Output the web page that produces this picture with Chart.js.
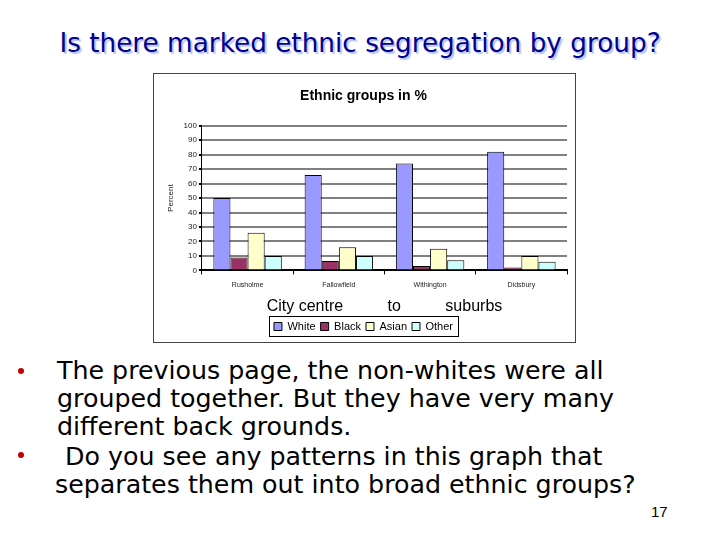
<!DOCTYPE html>
<html>
<head>
<meta charset="utf-8">
<script src="https://cdn.jsdelivr.net/npm/chart.js@4"></script>
<style>
  body { margin: 0; width: 720px; height: 540px; background: #fff; position: relative; overflow: hidden; }
  #title { position: absolute; left: 0; top: 28px; width: 720px; text-align: center;
    font-family: "DejaVu Sans", sans-serif; font-size: 26.3px; color: #000090;
    text-shadow: 2px 2px 1px #b8c4f0; }
  #box { position: absolute; left: 153px; top: 73px; width: 421px; height: 268px; border: 1px solid #444; }
  #bullets { position: absolute; left: 0; top: 357px; width: 720px;
    font-family: "DejaVu Sans", sans-serif; font-size: 25.3px; line-height: 28px; color: #000; }
  .b { position: absolute; left: 57px; white-space: nowrap; }
  .dot { position: absolute; left: 18px; width: 6px; height: 6px; border-radius: 3px; background: #c00000; }
  #page { position: absolute; left: 651px; top: 503px; font-family: "Liberation Sans", Arial, sans-serif; font-size: 15px; }
</style>
</head>
<body>
<div id="title">Is there marked ethnic segregation by group?</div>
<div id="box"><canvas id="chart" width="421" height="268"></canvas></div>
<div id="bullets">
  <div class="dot" style="top:11px"></div>
  <div class="b" style="top:0">The previous page, the non-whites were all<br>grouped together. But they have very many<br>different back grounds.</div>
  <div class="dot" style="top:95px"></div>
  <div class="b" style="top:86px">&nbsp;Do you see any patterns in this graph that</div>
  <div class="b" style="top:114px;left:55px">separates them out into broad ethnic groups?</div>
</div>
<div id="page">17</div>
<script>
const categories = ['Rusholme', 'Fallowfield', 'Withington', 'Didsbury'];
const whiteValues = [50, 66, 74, 82];
const blackValues = [9, 6.5, 3, 2];
const asianValues = [26, 16, 15, 10];
const otherValues = [10, 10, 7, 6];
const yTicks = [0, 10, 20, 30, 40, 50, 60, 70, 80, 90, 100];

const series = [
  { label: 'White', data: whiteValues, color: '#9999ff' },
  { label: 'Black', data: blackValues, color: '#993366' },
  { label: 'Asian', data: asianValues, color: '#ffffcc' },
  { label: 'Other', data: otherValues, color: '#ccffff' }
];

// box around the legend items only, like the Excel legend frame
const legendBorder = {
  id: 'legendBorder',
  afterDraw: (chart) => {
    const lg = chart.legend;
    if (!lg || !lg.legendHitBoxes || !lg.legendHitBoxes.length) {
      return;
    }
    const boxes = lg.legendHitBoxes;
    const left = Math.min(...boxes.map((b) => b.left)) - 5;
    const right = Math.max(...boxes.map((b) => b.left + b.width)) + 5;
    const top = Math.min(...boxes.map((b) => b.top)) - 5;
    const bottom = Math.max(...boxes.map((b) => b.top + b.height)) + 4;
    const ctx = chart.ctx;
    ctx.save();
    ctx.strokeStyle = '#000';
    ctx.lineWidth = 1;
    ctx.strokeRect(Math.round(left) + 0.5, Math.round(top) + 0.5, Math.round(right - left), Math.round(bottom - top));
    ctx.restore();
  }
};

new Chart(document.getElementById('chart'), {
  type: 'bar',
  data: {
    labels: categories,
    datasets: series.map((s) => ({
      label: s.label,
      data: s.data,
      backgroundColor: s.color,
      borderColor: '#000',
      borderWidth: 1,
      barPercentage: 1,
      categoryPercentage: 0.75
    }))
  },
  options: {
    responsive: false,
    animation: false,
    layout: { padding: { left: 6, right: 8, top: 8, bottom: 0 } },
    scales: {
      y: {
        min: 0,
        max: 100,
        afterBuildTicks: (scale) => { scale.ticks = yTicks.map((v) => ({ value: v })); },
        grid: { color: '#808080', lineWidth: 2, tickLength: 3, tickColor: '#000' },
        border: { color: '#000', width: 1 },
        ticks: { font: { family: 'Liberation Sans', size: 8 }, color: '#222', padding: 2 },
        title: { display: true, text: 'Percent', font: { family: 'Liberation Sans', size: 8 }, color: '#222', padding: 6 }
      },
      x: {
        grid: { drawOnChartArea: false, tickLength: 4, color: '#000', offset: true },
        border: { color: '#000', width: 2 },
        ticks: { font: { family: 'Liberation Sans', size: 7 }, color: '#222', padding: 6 },
        title: {
          display: true,
          text: 'City centre          to          suburbs',
          font: { family: 'Liberation Sans', size: 16 },
          color: '#000',
          padding: { top: 2, bottom: 0 }
        }
      }
    },
    plugins: {
      title: {
        display: true,
        text: 'Ethnic groups in %',
        font: { family: 'Liberation Sans', size: 14 },
        color: '#000',
        padding: { top: 6, bottom: 21 }
      },
      legend: {
        position: 'bottom',
        labels: { boxWidth: 8, boxHeight: 8, padding: 5, color: '#000', font: { family: 'Liberation Sans', size: 11 } }
      },
      tooltip: { enabled: false }
    }
  },
  plugins: [legendBorder]
});
</script>
</body>
</html>
